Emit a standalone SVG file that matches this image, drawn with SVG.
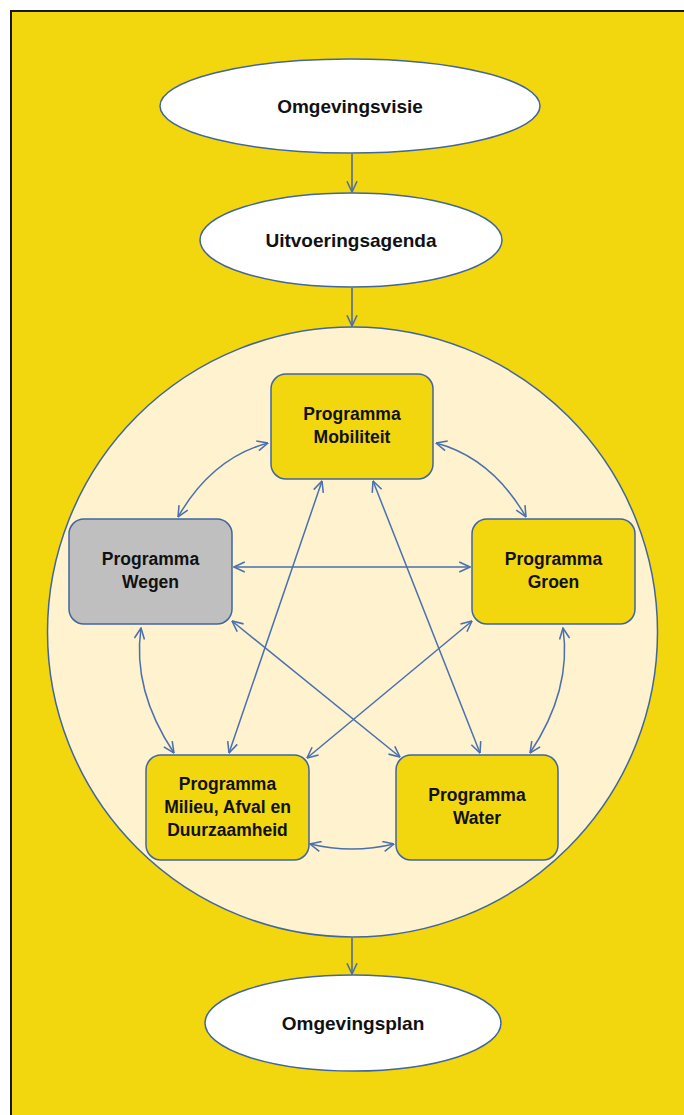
<svg xmlns="http://www.w3.org/2000/svg" width="684" height="1115" viewBox="0 0 684 1115">
<style>
.oval{fill:#FFFFFF;stroke:#41669E;stroke-width:1.5}
.box{fill:#F2D60E;stroke:#41669E;stroke-width:1.5}
.grey{fill:#BFBFBF;stroke:#41669E;stroke-width:1.5}
.t{font-family:"Liberation Sans",Arial,sans-serif;font-weight:bold;font-size:17.5px;fill:#111111;text-anchor:middle}
.e{font-size:19px}
.c{fill:none;stroke:#4A70AE;stroke-width:1.5;marker-start:url(#ah);marker-end:url(#ah)}
.d{fill:none;stroke:#4A6396;stroke-width:1.5;marker-end:url(#ah)}
</style>
<defs>
<marker id="ah" viewBox="0 0 10 10" refX="9.5" refY="5" markerWidth="12" markerHeight="12" markerUnits="userSpaceOnUse" orient="auto-start-reverse">
<path d="M0.5,0.8 L9.5,5 L0.5,9.2" fill="none" stroke="#4A70AE" stroke-width="1.3"/>
</marker>
</defs>
<rect x="11" y="11" width="700" height="1130" fill="#F2D60E" stroke="#1a1a1a" stroke-width="2"/>
<circle id="programmas" cx="352.5" cy="632" r="305" fill="#FEF2CF" stroke="#41669E" stroke-width="1.5"/>
<g id="connectors">
<path class="d" d="M352,154 L352,192"/>
<path class="d" d="M352,288 L352,326"/>
<path class="d" d="M352,938 L352,974"/>
<path class="c" d="M268,443 Q212,458 178,517"/>
<path class="c" d="M436,443 Q492,458 526,517"/>
<path class="c" d="M234,567 L470,567"/>
<path class="c" d="M141,628 Q132,690 174,753"/>
<path class="c" d="M563,628 Q572,690 530,753"/>
<path class="c" d="M310,844 Q352,854 394,844"/>
<path class="c" d="M232,621 L400,757"/>
<path class="c" d="M472,621 L307,758"/>
<path class="c" d="M322,481 L229,753"/>
<path class="c" d="M373,481 L480,753"/>
</g>
<g id="omgevingsvisie">
<ellipse class="oval" cx="350" cy="106" rx="190" ry="47"/>
<text class="t e" x="350" y="113">Omgevingsvisie</text>
</g>
<g id="uitvoeringsagenda">
<ellipse class="oval" cx="351" cy="240" rx="151" ry="47"/>
<text class="t e" x="351" y="247">Uitvoeringsagenda</text>
</g>
<g id="omgevingsplan">
<ellipse class="oval" cx="353" cy="1023" rx="148" ry="48"/>
<text class="t e" x="353" y="1030">Omgevingsplan</text>
</g>
<g id="mobiliteit">
<rect class="box" x="271" y="374" width="162" height="105" rx="15"/>
<text class="t" x="352" y="420">Programma</text>
<text class="t" x="352" y="443">Mobiliteit</text>
</g>
<g id="wegen">
<rect class="grey" x="69" y="519" width="163" height="105" rx="15"/>
<text class="t" x="150.5" y="565">Programma</text>
<text class="t" x="150.5" y="588">Wegen</text>
</g>
<g id="groen">
<rect class="box" x="472" y="519" width="163" height="105" rx="15"/>
<text class="t" x="553.5" y="565">Programma</text>
<text class="t" x="553.5" y="588">Groen</text>
</g>
<g id="milieu">
<rect class="box" x="146" y="755" width="163" height="105" rx="15"/>
<text class="t" x="227.5" y="790">Programma</text>
<text class="t" x="227.5" y="813">Milieu, Afval en</text>
<text class="t" x="227.5" y="836">Duurzaamheid</text>
</g>
<g id="water">
<rect class="box" x="396" y="755" width="162" height="105" rx="15"/>
<text class="t" x="477" y="801">Programma</text>
<text class="t" x="477" y="824">Water</text>
</g>
</svg>
